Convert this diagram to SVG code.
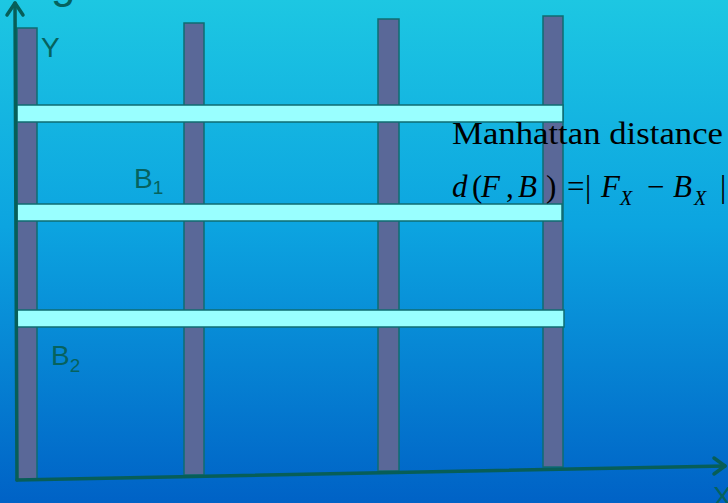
<svg xmlns="http://www.w3.org/2000/svg" width="728" height="503" viewBox="0 0 728 503">
<defs>
<linearGradient id="bg" x1="0" y1="0" x2="0" y2="1">
<stop offset="0" stop-color="#1DC7E2"/>
<stop offset="0.45" stop-color="#0CA4E0"/>
<stop offset="1" stop-color="#0062C6"/>
</linearGradient>
<style>
.col{fill:#5A6898;stroke:#0F6C72;stroke-width:1.5}
.row{fill:#99FFFF;stroke:#0F6C72;stroke-width:1.5}
.axis{fill:none;stroke:#075E58;stroke-width:3.5;stroke-linecap:round;stroke-linejoin:round}
.lbl{font-family:"Liberation Sans",Arial,sans-serif;fill:#06625E}
.ser{font-family:"Liberation Serif","Times New Roman",serif;fill:#000}
.it{font-style:italic}
</style>
</defs>
<rect width="728" height="503" fill="url(#bg)"/>
<text class="lbl" x="51" y="-2" font-size="44">g</text>
<g id="columns">
<g id="col1"><polygon class="col" points="17,28 37,28 37,480 17,480"/></g>
<g id="col2"><polygon class="col" points="184,23 204,23 204,475 184,475"/></g>
<g id="col3"><polygon class="col" points="378,19 399,19 399,471 378,471"/></g>
<g id="col4"><polygon class="col" points="543,16 563,16 563,467 543,467"/></g>
</g>
<g id="rows">
<g id="row1"><rect class="row" x="17" y="105" width="546" height="17"/></g>
<g id="row2"><rect class="row" x="17" y="204" width="545" height="17"/></g>
<g id="row3"><rect class="row" x="17" y="310" width="547" height="17"/></g>
</g>
<g id="connectors">
<path class="axis" d="M17,480 L15,3"/>
<path class="axis" d="M7,15 L15,3 L23,15"/>
<path class="axis" d="M17,480 L725,466"/>
<path class="axis" d="M714,458 L725,466 L714,474"/>
</g>
<g id="labels">
<text class="lbl" x="41" y="57" font-size="28">Y</text>
<text class="lbl" x="134" y="188" font-size="28">B<tspan font-size="19" dy="6">1</tspan></text>
<text class="lbl" x="51" y="365" font-size="28">B<tspan font-size="19" dy="7">2</tspan></text>
<text class="lbl" x="713" y="506" font-size="28">X</text>
</g>
<g id="formula">
<text class="ser" x="452" y="144" font-size="31" textLength="271" lengthAdjust="spacingAndGlyphs">Manhattan distance</text>
<text class="ser it" x="452" y="197" font-size="31">d</text>
<text class="ser" x="472" y="197" font-size="31">(</text>
<text class="ser it" x="481" y="197" font-size="31">F</text>
<text class="ser" x="506" y="197" font-size="31">,</text>
<text class="ser it" x="518" y="197" font-size="31">B</text>
<text class="ser" x="546" y="197" font-size="31">)</text>
<text class="ser" x="567" y="197" font-size="31">=</text>
<text class="ser" x="585" y="197" font-size="31">|</text>
<text class="ser it" x="601" y="197" font-size="31">F</text>
<text class="ser it" x="620" y="205" font-size="20">X</text>
<text class="ser" x="647" y="197" font-size="31">−</text>
<text class="ser it" x="673" y="197" font-size="31">B</text>
<text class="ser it" x="694" y="205" font-size="20">X</text>
<text class="ser" x="720" y="197" font-size="31">|</text>
</g>
</svg>
